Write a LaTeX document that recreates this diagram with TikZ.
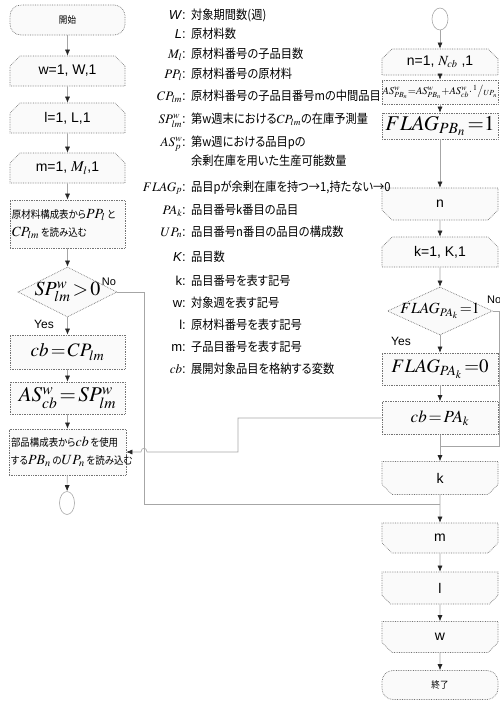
\documentclass[tikz,border=0pt]{standalone}
\usepackage{mathptmx}
\usepackage[no-math]{fontspec}
\setmainfont{Liberation Sans}
\newfontfamily\jp[RawFeature=+palt,FakeStretch=0.9]{Noto Sans CJK JP}
\usetikzlibrary{arrows.meta,shapes.geometric,shapes.misc}
\newcommand{\mbig}[1]{{\fontsize{14}{14}\selectfont$#1$}}

\begin{document}
\begin{tikzpicture}[x=1pt,y=-1pt,
  box/.style={draw=black!55,densely dotted,line width=0.7pt,fill=gray!4,minimum width=115pt,minimum height=30pt,inner sep=2pt},
  term/.style={box,rounded corners=11pt},
  loopin/.style={box,chamfered rectangle,chamfered rectangle corners={north west,north east},chamfered rectangle sep=5pt},
  loopout/.style={box,chamfered rectangle,chamfered rectangle corners={south west,south east},chamfered rectangle sep=5pt},
  decide/.style={draw=black!55,densely dotted,line width=0.7pt,fill=gray!4,diamond,inner sep=0pt},
  conn/.style={draw=gray!70,line width=0.6pt,ellipse,minimum width=15pt,minimum height=23pt,inner sep=0pt},
  line/.style={draw=gray!70,line width=0.6pt},
  arr/.style={line,-{Latex[length=6pt,width=5pt,color=black!85]}},
  ja/.style={font=\fontsize{10.5}{18}\jp},
  sans/.style={font=\fontsize{14}{16}\selectfont},
  yn/.style={font=\fontsize{12}{14}\selectfont,inner sep=0pt},
  legsym/.style={font=\fontsize{13}{15}\selectfont,anchor=base east,inner sep=0pt},
  legtxt/.style={font=\fontsize{12.5}{15}\jp,anchor=base west,inner sep=0pt},
]
\useasboundingbox (0,0) rectangle (500,702);

% left column
\node[term,font=\fontsize{9.5}{11}\jp] (start) at (67.5,20) {開始};
\node[loopin,sans] (wloop) at (67.5,71) {w=1, W,1};
\node[loopin,sans] (lloop) at (67.5,118) {l=1, L,1};
\node[loopin,sans] (mloop) at (67.5,168) {m=1, {\fontsize{15}{15}\selectfont$M_l$},1};
\node[box,ja,text width=111pt,align=left,minimum height=48pt] (read1) at (67.5,224)
  {原材料構成表から\mbig{PP_l}\,と\\\mbig{CP_{lm}}\,を読み込む};
\node[decide,minimum width=99pt,minimum height=50pt] (sp) at (67.5,292) {};
\node[font=\fontsize{20}{20}\selectfont,inner sep=0pt] (sptxt) at (sp) {$SP^{w}_{lm}\!>\!0$};
\node[box,font=\fontsize{19}{19}\selectfont,minimum height=34pt] (cbcp) at (67.5,352) {$cb\!=\!CP_{lm}$};
\node[box,font=\fontsize{21}{21}\selectfont,minimum height=32pt] (assp) at (67.5,398) {$AS^{w}_{cb}\!=\!SP^{w}_{lm}$};
\node[box,ja,text width=113pt,align=left,minimum height=46pt] (read2) at (67.5,452)
  {部品構成表から\mbig{cb}\,を使用\\する\mbig{PB_n}\,の\mbig{UP_n}\,を読み込む};
\node[conn] (conl) at (67,503) {};
\node[yn] (yesl) at (44,324) {Yes};
\node[yn,font=\fontsize{11}{13}\selectfont] (nol) at (109,282) {No};

% right column
\node[conn,minimum width=16pt,minimum height=22pt] (conr) at (440,19) {};
\node[loopin,sans,minimum width=116pt,minimum height=24pt] (nloop) at (440,62) {n=1, $N_{cb}$ ,1};
\node[box,font=\fontsize{10.5}{11}\selectfont,minimum width=116pt,minimum height=24pt,inner sep=0pt] (asupd) at (440,92)
  {$AS^{w}_{PB_n}{=}AS^{w}_{PB_n}{+}AS^{w}_{cb}{\cdot}\,{}^{1}\big/{}_{UP_n}$};
\node[box,font=\fontsize{21}{21}\selectfont,minimum width=116pt,minimum height=26pt,inner sep=0pt] (flagpb) at (440,126) {$FLAG_{PB_n}\,{=}1$};
\node[loopout,sans,minimum width=116pt,minimum height=32pt] (nend) at (440,204) {n};
\node[loopin,sans,minimum width=116pt,minimum height=30pt] (kloop) at (440,252) {k=1, K,1};
\node[decide,minimum width=105pt,minimum height=48pt] (fdia) at (440,311) {};
\node[font=\fontsize{15.5}{16}\selectfont,inner sep=0pt] (fdiatxt) at (fdia) {$FLAG_{PA_k}\,{=}1$};
\node[box,font=\fontsize{19}{19}\selectfont,minimum width=116pt,minimum height=32pt] (flag0) at (440,369) {$FLAG_{PA_k}\,{=}0$};
\node[box,font=\fontsize{17}{17}\selectfont,minimum width=116pt,minimum height=33pt] (cbpa) at (440,418) {$cb\!=\!PA_k$};
\node[loopout,sans,minimum width=116pt,minimum height=33pt] (kend) at (440,478) {k};
\node[loopout,sans,minimum width=116pt,minimum height=30pt] (mend) at (440,538) {m};
\node[loopout,sans,minimum width=116pt,minimum height=32pt] (lend) at (440,588) {l};
\node[loopout,sans,minimum width=116pt,minimum height=31pt] (wend) at (440,637) {w};
\node[term,font=\fontsize{9.5}{11}\jp,minimum width=116pt,minimum height=29pt] (fin) at (440,685) {終了};
\node[yn] (yesr) at (401,341) {Yes};
\node[yn,font=\fontsize{11}{13}\selectfont,anchor=west] (nor) at (487,300) {No};

% legend
\foreach \y/\sym/\txt [count=\i] in {
  19/\textit{W}/{対象期間数(週)},
  38/\textit{L}/{原材料数},
  58/{$M_l$}/{原材料番号の子品目数},
  78/{$PP_l$}/{原材料番号の原材料},
  100/{$CP_{lm}$}/{原材料番号の子品目番号mの中間品目},
  123/{$SP^{w}_{lm}$}/{第w週末における$CP_{lm}$の在庫予測量},
  146/{$AS^{w}_{p}$}/{第w週における品目pの},
  191/{$FLAG_p$}/{品目pが余剰在庫を持つ→1,持たない→0},
  214/{$PA_k$}/{品目番号k番目の品目},
  236/{$UP_n$}/{品目番号n番目の品目の構成数},
  261/\textit{K}/{品目数},
  285/k/{品目番号を表す記号},
  307/w/{対象週を表す記号},
  329/l/{原材料番号を表す記号},
  351/m/{子品目番号を表す記号},
  373/{$cb$}/{展開対象品目を格納する変数}}{
  \node[legsym] (sym\i) at (186,\y) {\sym:};
  \node[legtxt] (txt\i) at (191,\y) {\txt};
}
\node[legtxt] (txt7b) at (191,165) {余剰在庫を用いた生産可能数量};

% flow arrows
\foreach \a/\b in {start/wloop,wloop/lloop,lloop/mloop,mloop/read1,read1/sp,sp/cbcp,cbcp/assp,assp/read2,read2/conl,
  conr/nloop,nloop/asupd,asupd/flagpb,flagpb/nend,nend/kloop,kloop/fdia,fdia/flag0,flag0/cbpa,cbpa/kend,kend/mend,mend/lend,lend/wend,wend/fin}
  \draw[arr] (\a) -- (\b);

% No branches
\coordinate (joinA) at (440,446);
\coordinate (joinB) at (440,504);
\draw[line] (fdia.east) -- ++(6,0) |- (joinA);
\draw[line] (sp.east) -- ++(26.5,0) |- (joinB);

% back to reading the parts table
\coordinate (fbk) at (238,452);
\coordinate (hop) at (144,452);
\draw[arr] (cbpa.west) -| (fbk) -- ([xshift=3pt]hop)
  .. controls ([xshift=3pt,yshift=5pt]hop) and ([xshift=-3pt,yshift=5pt]hop) .. ([xshift=-3pt]hop) -- (read2.east);
\end{tikzpicture}
\end{document}
